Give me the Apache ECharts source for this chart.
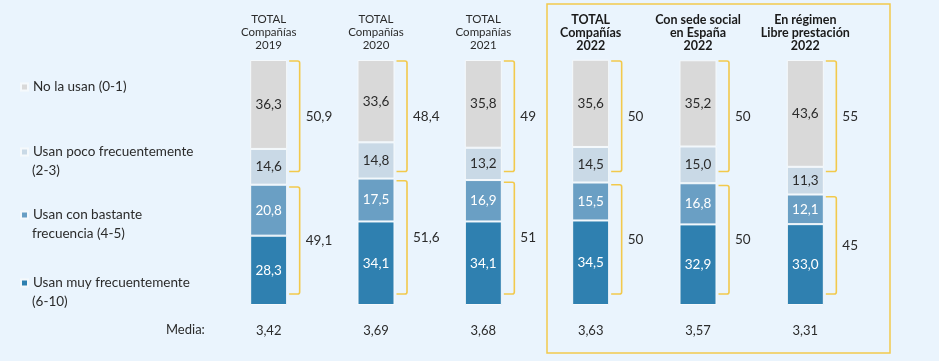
<!DOCTYPE html>
<html><head><meta charset="utf-8">
<script src="https://cdn.jsdelivr.net/npm/echarts@6/dist/echarts.min.js"></script>
<style>html,body{margin:0;padding:0;background:#eaf4fd}#c{width:939px;height:361px}</style>
</head><body><div id="c"></div>
<script>
// ---- data ----
var categories = ['TOTAL\nCompañías\n2019','TOTAL\nCompañías\n2020','TOTAL\nCompañías\n2021','TOTAL\nCompañías\n2022','Con sede social\nen España\n2022','En régimen\nLibre prestación\n2022'];
var boldCats = [false,false,false,true,true,true];
var seriesNames = ['Usan muy frecuentemente\n(6-10)','Usan con bastante\nfrecuencia (4-5)','Usan poco frecuentemente\n(2-3)','No la usan (0-1)'];
var muyFrec   = [28.3, 34.1, 34.1, 34.5, 32.9, 33.0];
var bastante  = [20.8, 17.5, 16.9, 15.5, 16.8, 12.1];
var poco      = [14.6, 14.8, 13.2, 14.5, 15.0, 11.3];
var noUsan    = [36.3, 33.6, 35.8, 35.6, 35.2, 43.6];
var topTotals = [50.9, 48.4, 49, 50, 50, 55];
var bottomTotals = [49.1, 51.6, 51, 50, 50, 45];
var media = ['3,42','3,69','3,68','3,63','3,57','3,31'];

var colors = ['#2f80b0','#6a9fc4','#c9d9e6','#d9d9d9'];
var labelColors = ['#ffffff','#ffffff','#2b2b2b','#2b2b2b'];
var FONT = 'Lato';
function fmt1(v){ return v.toFixed(1).replace('.', ','); }
function fmtT(v){ return String(v).replace('.', ','); }

var valueSets = [muyFrec, bastante, poco, noUsan];
var series = valueSets.map(function(arr, i){
  return {
    name: seriesNames[i], type: 'bar', stack: 's', barWidth: 37,
    data: arr,
    itemStyle: { color: colors[i], borderColor: '#f5f9fc', borderWidth: 1 },
    label: { show: true, position: 'inside', fontFamily: FONT, fontSize: 13.5, color: labelColors[i],
      formatter: function(p){ return fmt1(p.value); } },
    emphasis: { disabled: true }, silent: true
  };
});

var bracketData = categories.map(function(c, i){ return [i, muyFrec[i] + bastante[i]]; });
series.push({
  type: 'custom', silent: true, z: 5,
  data: bracketData,
  renderItem: function(params, api){
    var idx = api.value(0), boundary = api.value(1);
    var segs = [[100, 54.5, topTotals[idx]], [boundary - 0.5, 4.5, bottomTotals[idx]]];
    var children = [];
    segs.forEach(function(s){
      var p1 = api.coord([idx, s[0]]), p2 = api.coord([idx, s[1]]);
      var xr = p1[0] + 20.5, xv = p1[0] + 31;
      var y1 = p1[1] + 1, y2 = p2[1];
      children.push({ type: 'path', shape: { pathData:
          'M' + xr + ' ' + y1 + ' L' + (xv - 2) + ' ' + y1 + ' Q' + xv + ' ' + y1 + ' ' + xv + ' ' + (y1 + 2) +
          ' L' + xv + ' ' + (y2 - 2) + ' Q' + xv + ' ' + y2 + ' ' + (xv - 2) + ' ' + y2 + ' L' + xr + ' ' + y2 },
        style: { stroke: '#f2c94c', lineWidth: 1.6, fill: null } });
      children.push({ type: 'text', x: xv + 6, y: (y1 + y2) / 2,
        style: { text: fmtT(s[2]), fontFamily: FONT, fontSize: 13.5, fill: '#2b2b2b', verticalAlign: 'middle', align: 'left' } });
    });
    return { type: 'group', children: children };
  }
});

var legendTops = [77.5, 142.5, 205.5, 273.5];
var legendOrder = [3,2,1,0];
var legends = legendOrder.map(function(si, k){
  return {
    data: [seriesNames[si]], left: 20, top: legendTops[k], padding: 0,
    itemWidth: 7, itemHeight: 7, itemGap: 0, icon: 'rect', selectedMode: false,
    formatter: function(n){ return n.split('\n')[0]; },
    textStyle: { fontFamily: FONT, fontSize: 13.5, color: '#2b2b2b', lineHeight: 19 }
  };
});
// second lines of the legend labels
var legendSecondLines = [];
legendOrder.forEach(function(si, k){
  var parts = seriesNames[si].split('\n');
  if (parts.length > 1) {
    legendSecondLines.push({ type: 'text', x: 32, y: legendTops[k] + 9.5 + 19,
      style: { text: parts[1], fontFamily: FONT, fontSize: 13.5, fill: '#2b2b2b', verticalAlign: 'middle' } });
  }
});

var chart = echarts.init(document.getElementById('c'));
chart.setOption({
  backgroundColor: '#eaf4fd',
  animation: false,
  color: colors,
  legend: legends,
  grid: { left: 215, right: 80, top: 60, bottom: 56 },
  xAxis: [{
    type: 'category', data: categories, position: 'top',
    axisLine: { show: false }, axisTick: { show: false },
    axisLabel: { margin: 8, interval: 0, lineHeight: 13,
      formatter: function(v, i){ return boldCats[i] ? '{b|' + v.split('\n').join('}\n{b|') + '}' : '{n|' + v.split('\n').join('}\n{n|') + '}'; },
      rich: { n: { fontFamily: FONT, fontSize: 11.5, color: '#2b2b2b', lineHeight: 13, align: 'center' },
              b: { fontFamily: FONT, fontSize: 12.5, fontWeight: 'bold', color: '#1a1a1a', lineHeight: 13, align: 'center' } } }
  }, {
    type: 'category', data: media, position: 'bottom',
    axisLine: { show: false }, axisTick: { show: false },
    axisLabel: { margin: 19, interval: 0, fontFamily: FONT, fontSize: 13, color: '#2b2b2b' }
  }],
  yAxis: { type: 'value', min: 0, max: 100, show: false },
  series: series,
  graphic: [
    { type: 'rect', shape: { x: 547, y: 4, width: 343, height: 349 }, style: { fill: null, stroke: '#f2c94c', lineWidth: 1.5 }, silent: true },
    { type: 'text', x: 166, y: 330, style: { text: 'Media:', fontFamily: FONT, fontSize: 13, fill: '#2b2b2b', verticalAlign: 'middle' } }
  ].concat(legendSecondLines)
});
</script></body></html>
